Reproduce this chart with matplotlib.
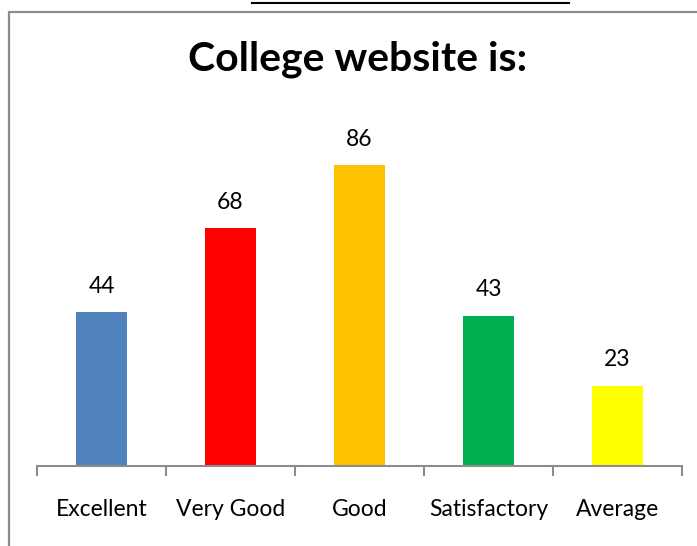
import matplotlib
matplotlib.use("Agg")
import matplotlib.pyplot as plt
from matplotlib.patches import Rectangle
from matplotlib.lines import Line2D

categories = ["Excellent", "Very Good", "Good", "Satisfactory", "Average"]
values = [44, 68, 86, 43, 23]
colors = ["#4F81BD", "#FF0000", "#FFC000", "#00B050", "#FFFF00"]
title = "College website is:"

W, H = 697, 546
fig = plt.figure(figsize=(W / 100, H / 100), dpi=100)
plt.rcParams['font.family'] = ['Lato', 'DejaVu Sans']

# outer chart border
fig.patches.append(Rectangle((9 / W, -0.1), 1.1, 1 - 12 / H + 0.1, transform=fig.transFigure,
                             fill=False, edgecolor="#8C8C8C", linewidth=1.6))
# black line at very top
fig.add_artist(Line2D([252 / W, 569 / W], [1 - 3 / H, 1 - 3 / H], transform=fig.transFigure,
                      color="black", linewidth=1.5))

ax = fig.add_axes([37 / W, 1 - 466 / H, 645 / W, 350 / H])
x = list(range(len(categories)))
bars = ax.bar(x, values, width=0.4, color=colors)
ax.set_xlim(-0.5, len(categories) - 0.5)
ax.set_ylim(0, 100)
for xi, v in zip(x, values):
    ax.text(xi, v + 4.3, str(v), ha="center", va="bottom", fontsize=16.5, color="black")

for s in ["top", "left", "right"]:
    ax.spines[s].set_visible(False)
ax.spines["bottom"].set_color("#8C8C8C")
ax.spines["bottom"].set_linewidth(1.5)
ax.set_yticks([])
ax.set_xticks(x)
ax.set_xticklabels(categories, fontsize=16.5)
ax.tick_params(axis="x", which="major", length=0, pad=24)
ax.set_xticks([i - 0.5 for i in range(len(categories) + 1)], minor=True)
ax.tick_params(axis="x", which="minor", length=7, width=1.5, color="#8C8C8C", direction="out")

fig.text(358 / W, 1 - 59 / H, title, ha="center", va="center", fontsize=29.5, fontweight="bold")

fig.savefig("out.png", dpi=100)
